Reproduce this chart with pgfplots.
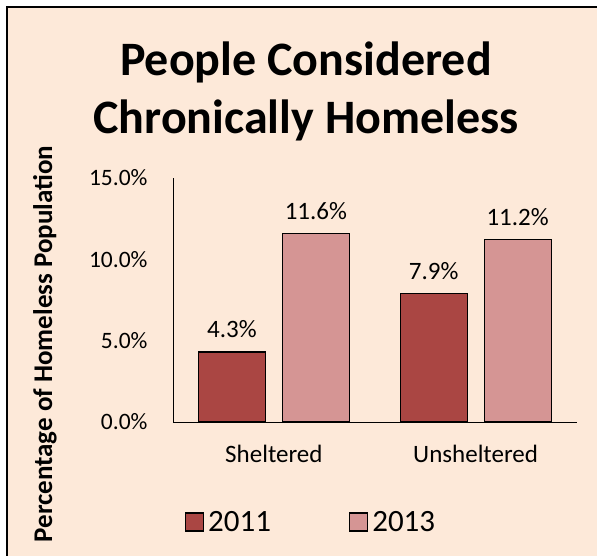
\documentclass[border=0pt]{standalone}
\usepackage{pgfplots}
\pgfplotsset{compat=1.18}
\usepackage{fontspec}
\setmainfont{Carlito}
\definecolor{bgpeach}{HTML}{FDE9D9}
\definecolor{bar11}{HTML}{AA4643}
\definecolor{bar13}{HTML}{D59594}
\begin{document}
\begin{tikzpicture}[x=1pt,y=1pt]
  % page, peach field and the top/left frame
  \path[use as bounding box] (0,0) rectangle (597,556);
  \fill[white] (0,0) rectangle (597,556);
  \fill[bgpeach] (7,0) rectangle (597,549);
  \draw[line width=2.5pt] (7,0) -- (7,549) -- (597,549);

  \node[font=\fontsize{48}{58}\selectfont\bfseries, align=center, anchor=center]
    at (306,465) {People Considered\\Chronically Homeless};

  \node[font=\fontsize{27}{29}\selectfont\bfseries, rotate=90, anchor=center]
    at (45,212) {Percentage of Homeless Population};

  \begin{axis}[
      at={(173pt,134pt)}, anchor=south west,
      scale only axis,
      width=403.5pt, height=244pt,
      ybar, bar width=67pt,
      xmin=-0.5, xmax=1.5,
      ymin=0, ymax=15,
      xtick=data, xticklabels={Sheltered, Unsheltered},
      ytick={0,5,10,15},
      yticklabels={0.0\%, 5.0\%, 10.0\%, 15.0\%},
      axis x line*=bottom, axis y line*=left,
      axis line style={line width=0.9pt},
      major tick length=0pt,
      tick label style={font=\fontsize{25}{27}\selectfont},
      yticklabel style={xshift=-22pt, font=\fontsize{23.5}{25}\selectfont},
      xticklabel style={yshift=-20pt},
      every axis plot/.append style={draw=black, line width=1.2pt},
      nodes near coords={\pgfmathprintnumber[fixed, fixed zerofill, precision=1, assume math mode=true]{\pgfplotspointmeta}\%},
      nodes near coords style={font=\fontsize{25}{27}\selectfont, black, yshift=10pt},
      legend style={at={(0.342,-0.41)}, anchor=center, draw=none, fill=none,
        legend columns=2, font=\fontsize{31}{33}\selectfont,
        /tikz/every odd column/.append style={column sep=2pt},
        /tikz/every even column/.append style={column sep=76pt}},
      legend image code/.code={\draw[#1, line width=1.3pt] (0pt,-9pt) rectangle (18pt,9pt);},
    ]
    \addplot[fill=bar11, bar shift=-42pt] coordinates {(0,4.3) (1,7.9)};
    \addplot[fill=bar13, bar shift=42pt] coordinates {(0,11.6) (1,11.2)};
    \legend{2011, 2013}
  \end{axis}
\end{tikzpicture}
\end{document}
